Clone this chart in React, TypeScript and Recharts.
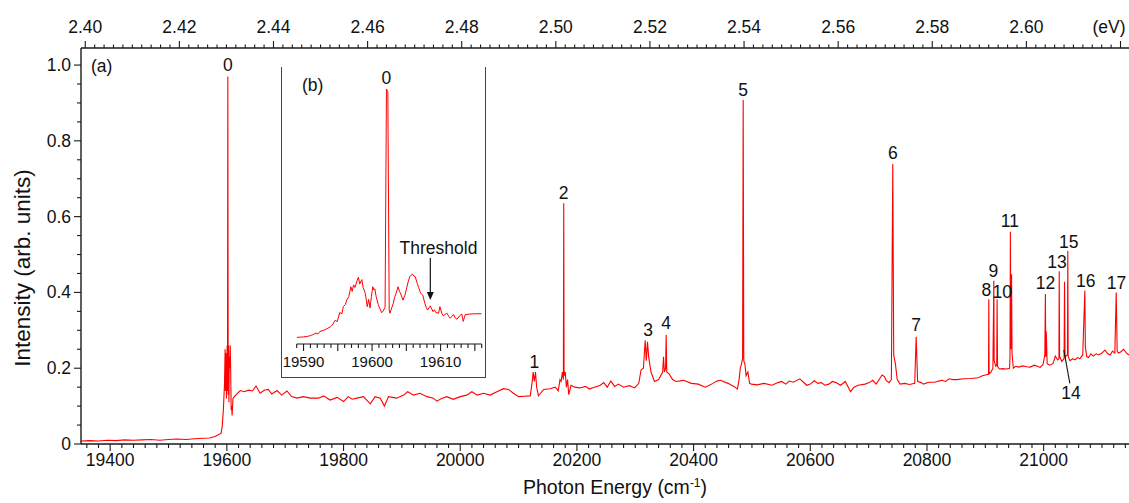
import React from "react";
import { LineChart, Line, XAxis, YAxis, ReferenceDot, ReferenceLine } from "recharts";

const FONT = "'Liberation Sans', Arial, Helvetica, sans-serif";
const AXIS = "#1a1a1a";
const RED = "#ff0000";
const EV_TO_CM = 8065.544;

// (a) full spectrum: photon energy (cm-1) and intensity (arb. units)
const energy = [
  19350, 19365, 19380, 19395, 19410, 19425, 19440, 19455, 19470, 19485, 19500, 19515, 19530, 19545, 19560, 19570, 19580, 19586, 19590,
  19592, 19594, 19596, 19597, 19597.6, 19598.2, 19598.8, 19599.4, 19600, 19600.6, 19601.1, 19601.7, 19602.3, 19602.9, 19603.5, 19604.2,
  19605, 19605.8, 19606.6, 19607.4, 19608.2, 19609, 19610.5, 19613, 19616, 19623, 19630, 19637, 19644, 19650, 19657, 19664, 19671, 19677,
  19686, 19694, 19703, 19711, 19720, 19731, 19743, 19757, 19766, 19777, 19789, 19800, 19808, 19815, 19823, 19834, 19846, 19854, 19863,
  19870, 19877, 19891, 19903, 19910, 19920, 19931, 19943, 19954, 19960, 19968, 19977, 19988, 20000, 20011, 20020, 20029, 20040, 20051,
  20063, 20074, 20083, 20091, 20100, 20110, 20120, 20123, 20125, 20127, 20129, 20131, 20134, 20143, 20154, 20163, 20168, 20171, 20173,
  20175, 20176.8, 20177.4, 20178, 20180, 20182, 20184, 20186, 20190, 20196, 20205, 20215, 20221, 20230, 20240, 20246, 20252, 20258, 20265,
  20271, 20280, 20290, 20299, 20306, 20310, 20314, 20317, 20319, 20321, 20323, 20327, 20333, 20340, 20347, 20348.4, 20350, 20352, 20353,
  20354, 20358, 20364, 20370, 20383, 20396, 20408, 20420, 20428, 20433, 20440, 20446, 20459, 20471, 20475, 20478, 20480, 20482, 20484,
  20485, 20486, 20488, 20490, 20493, 20496, 20499, 20509, 20521, 20534, 20545, 20551, 20558, 20564, 20571, 20582, 20594, 20600, 20607,
  20613, 20619, 20625, 20632, 20638, 20644, 20652, 20660, 20669, 20675, 20682, 20694, 20701, 20707, 20713, 20720, 20723, 20727, 20730,
  20735, 20739, 20741.4, 20743, 20746, 20749, 20754, 20762, 20770, 20779, 20781.5, 20784, 20790, 20794, 20803, 20813, 20820, 20826, 20832,
  20838, 20845, 20851, 20863, 20875, 20888, 20895, 20900, 20905.5, 20906, 20906.5, 20910, 20913, 20914.6, 20915.2, 20918, 20919.6, 20920.2,
  20921, 20924, 20930, 20935, 20940, 20941.6, 20942.3, 20943, 20943.7, 20944.5, 20945, 20945.8, 20948, 20952, 20957, 20964, 20971, 20977,
  20984, 20988, 20994, 20999, 21002, 21003, 21003.6, 21004.5, 21006, 21010, 21016, 21020, 21024, 21026.2, 21026.7, 21027.3, 21031, 21035,
  21035.8, 21036.6, 21038, 21040.8, 21041.4, 21042, 21045, 21050, 21054, 21058, 21062, 21067, 21070.6, 21071.5, 21074, 21077, 21081, 21085,
  21090, 21094, 21100, 21105, 21110, 21114, 21118, 21122, 21124.4, 21126, 21128, 21132, 21137, 21143, 21150, 21160,
];
const intensity = [
  0.008, 0.009, 0.008, 0.01, 0.009, 0.011, 0.01, 0.011, 0.012, 0.01, 0.012, 0.013, 0.012, 0.014, 0.015, 0.016, 0.02, 0.025, 0.028,
  0.045, 0.09, 0.16, 0.25, 0.14, 0.24, 0.19, 0.12, 0.22, 0.26, 0.14, 0.97, 0.13, 0.26, 0.11, 0.23,
  0.2, 0.26, 0.19, 0.09, 0.1, 0.075, 0.12, 0.125, 0.13, 0.141, 0.138, 0.142, 0.14, 0.153, 0.134, 0.142, 0.144, 0.132,
  0.141, 0.129, 0.14, 0.125, 0.121, 0.125, 0.121, 0.121, 0.127, 0.116, 0.123, 0.112, 0.125, 0.118, 0.121, 0.125, 0.106, 0.125, 0.121,
  0.1, 0.125, 0.121, 0.129, 0.138, 0.129, 0.134, 0.125, 0.121, 0.113, 0.12, 0.125, 0.118, 0.125, 0.129, 0.138, 0.129, 0.134, 0.129,
  0.138, 0.146, 0.144, 0.134, 0.125, 0.126, 0.127, 0.16, 0.19, 0.165, 0.19, 0.15, 0.127, 0.144, 0.146, 0.15, 0.14, 0.17, 0.165,
  0.19, 0.17, 0.635, 0.18, 0.19, 0.15, 0.17, 0.13, 0.155, 0.15, 0.148, 0.152, 0.145, 0.15, 0.155, 0.162, 0.15, 0.166, 0.152,
  0.158, 0.15, 0.154, 0.148, 0.16, 0.196, 0.2, 0.274, 0.22, 0.27, 0.23, 0.19, 0.165, 0.17, 0.19, 0.23, 0.19, 0.2, 0.288,
  0.19, 0.185, 0.17, 0.165, 0.168, 0.16, 0.158, 0.15, 0.156, 0.16, 0.166, 0.168, 0.16, 0.15, 0.145, 0.17, 0.2, 0.21, 0.226,
  0.908, 0.22, 0.21, 0.18, 0.19, 0.16, 0.158, 0.156, 0.16, 0.155, 0.162, 0.165, 0.158, 0.166, 0.163, 0.172, 0.155, 0.158, 0.167,
  0.16, 0.162, 0.155, 0.158, 0.165, 0.162, 0.155, 0.165, 0.138, 0.15, 0.155, 0.158, 0.162, 0.168, 0.158, 0.175, 0.182, 0.178, 0.168,
  0.162, 0.17, 0.739, 0.235, 0.21, 0.17, 0.158, 0.16, 0.157, 0.16, 0.283, 0.165, 0.162, 0.158, 0.163, 0.163, 0.166, 0.168, 0.165,
  0.172, 0.17, 0.17, 0.172, 0.173, 0.175, 0.18, 0.182, 0.184, 0.382, 0.185, 0.19, 0.2, 0.431, 0.22, 0.205, 0.208, 0.382,
  0.205, 0.198, 0.199, 0.198, 0.199, 0.2, 0.23, 0.56, 0.25, 0.26, 0.448, 0.24, 0.2, 0.205, 0.203, 0.206, 0.204, 0.203,
  0.208, 0.206, 0.202, 0.21, 0.235, 0.396, 0.23, 0.297, 0.212, 0.208, 0.212, 0.232, 0.222, 0.225, 0.456, 0.232, 0.218, 0.225,
  0.428, 0.228, 0.232, 0.235, 0.51, 0.232, 0.22, 0.225, 0.222, 0.228, 0.225, 0.235, 0.405, 0.255, 0.23, 0.228, 0.238, 0.232,
  0.238, 0.235, 0.24, 0.248, 0.238, 0.235, 0.245, 0.24, 0.4, 0.245, 0.24, 0.243, 0.25, 0.238, 0.232, 0.235,
];

// (b) inset around the origin band
const insetEnergy = [
  19589, 19590, 19590.6, 19591, 19591.5, 19591.8, 19592.1, 19592.4, 19592.9, 19593.4, 19593.9, 19594.2, 19594.6, 19594.9, 19595.3,
  19595.6, 19595.8, 19596.1, 19596.3, 19596.6, 19596.9, 19597.1, 19597.3, 19597.5, 19597.8, 19598, 19598.2, 19598.5, 19598.7, 19599,
  19599.2, 19599.3, 19599.5, 19599.7, 19599.9, 19600.1, 19600.3, 19600.4, 19600.6, 19600.7, 19600.9, 19601.1, 19601.4, 19601.6,
  19601.9, 19602.1, 19602.3, 19602.5, 19602.6, 19602.9, 19603.1, 19603.3, 19603.5, 19603.8, 19604, 19604.2, 19604.5, 19604.8, 19605.1,
  19605.3, 19605.5, 19605.7, 19605.9, 19606.1, 19606.3, 19606.6, 19606.8, 19607, 19607.2, 19607.4, 19607.7, 19607.9, 19608.1, 19608.3,
  19608.5, 19608.9, 19609.1, 19609.3, 19609.7, 19609.9, 19610.2, 19610.4, 19610.9, 19611.2, 19611.4, 19611.9, 19612.1, 19612.4,
  19612.8, 19613.1, 19613.3, 19613.6, 19614.3, 19615, 19616,
];
const insetIntensity = [
  0.025, 0.027, 0.029, 0.032, 0.037, 0.042, 0.038, 0.048, 0.052, 0.058, 0.065, 0.072, 0.09, 0.085, 0.12,
  0.115, 0.142, 0.15, 0.167, 0.18, 0.218, 0.2, 0.225, 0.215, 0.24, 0.254, 0.228, 0.245, 0.215, 0.193,
  0.16, 0.142, 0.17, 0.137, 0.18, 0.218, 0.205, 0.21, 0.18, 0.17, 0.15, 0.137, 0.119, 0.125,
  0.14, 0.97, 0.96, 0.13, 0.117, 0.14, 0.155, 0.178, 0.193, 0.218, 0.2, 0.19, 0.167, 0.186, 0.218,
  0.24, 0.256, 0.262, 0.266, 0.258, 0.256, 0.23, 0.215, 0.199, 0.19, 0.186, 0.155, 0.14, 0.129, 0.138,
  0.145, 0.123, 0.13, 0.12, 0.117, 0.142, 0.115, 0.107, 0.118, 0.105, 0.098, 0.112, 0.1, 0.094,
  0.108, 0.114, 0.086, 0.112, 0.114, 0.115, 0.115,
];

// band assignments: label text and where the label sits
const bandNames = ["0", "1", "2", "3", "4", "5", "6", "7", "8", "9", "10", "11", "12", "13", "14", "15", "16", "17"];
const bandX = [19601.7, 20127, 20177.4, 20322, 20353, 20485, 20741.4, 20781.5, 20902, 20914, 20929, 20942, 21003, 21023, 21047, 21043, 21072, 21125];
const bandY = [1.0, 0.217, 0.663, 0.301, 0.318, 0.934, 0.767, 0.314, 0.406, 0.457, 0.402, 0.588, 0.424, 0.481, 0.134, 0.534, 0.431, 0.424];

// axis tick labels
const cmMajor = [19400, 19600, 19800, 20000, 20200, 20400, 20600, 20800, 21000];
const evMajor = ["2.40", "2.42", "2.44", "2.46", "2.48", "2.50", "2.52", "2.54", "2.56", "2.58", "2.60", "(eV)"];
const yMajor = ["0", "0.2", "0.4", "0.6", "0.8", "1.0"];
const insetMajor = [19590, 19600, 19610];

const mainData = energy.map((x, i) => ({ x, y: intensity[i] }));
const insetData = insetEnergy.map((x, i) => ({ x, y: insetIntensity[i] }));

const cmTicks: number[] = [];
for (let v = 19360; v <= 21160; v += 20) cmTicks.push(v);
const evTicks: number[] = [];
for (let k = 2400; k <= 2622; k += 2) evTicks.push((k / 1000) * EV_TO_CM);
const yTicks: number[] = [];
for (let k = 0; k <= 20; k++) yTicks.push(k * 0.05);
const insetTicks: number[] = [];
for (let v = 19589; v <= 19616; v++) insetTicks.push(v);

const txt = { fontFamily: FONT, fill: "#111" };

// plot edges (px) - ticks are drawn from these so they sit on the axis lines
const PLOT_LEFT = 81;
const PLOT_TOP = 48;
const PLOT_BOTTOM = 444;
const INSET_AXIS = 277;

const BottomTick = (p: any) => {
  const v = Math.round(p.payload.value);
  const major = cmMajor.includes(v);
  const y = PLOT_BOTTOM;
  return (
    <g>
      <line x1={p.x} x2={p.x} y1={y} y2={y + (major ? 7 : 4)} stroke={AXIS} strokeWidth={1.1} />
      {major && <text x={p.x} y={y + 22} textAnchor="middle" fontSize={17.5} {...txt}>{v}</text>}
    </g>
  );
};

const TopTick = (p: any) => {
  const k = Math.round((p.payload.value / EV_TO_CM) * 1000);
  const major = k % 20 === 0;
  const label = evMajor[(k - 2400) / 20];
  const unit = label === "(eV)";
  const y = PLOT_TOP;
  return (
    <g>
      <line x1={p.x} x2={p.x} y1={y} y2={y - (major ? 7 : 3.5)} stroke={AXIS} strokeWidth={1.1} />
      {major && label && (
        <text x={unit ? p.x + 5 : p.x} y={y - 15} textAnchor={unit ? "end" : "middle"} fontSize={17.5} {...txt}>{label}</text>
      )}
    </g>
  );
};

const LeftTick = (p: any) => {
  const k = Math.round(p.payload.value * 100);
  const major = k % 20 === 0;
  const x = PLOT_LEFT;
  return (
    <g>
      <line x1={x} x2={x - (major ? 7 : 4)} y1={p.y} y2={p.y} stroke={AXIS} strokeWidth={1.1} />
      {major && <text x={x - 10} y={p.y + 6} textAnchor="end" fontSize={17.5} {...txt}>{yMajor[k / 20]}</text>}
    </g>
  );
};

const InsetTick = (p: any) => {
  const v = Math.round(p.payload.value);
  const major = v % 5 === 0;
  const y = INSET_AXIS;
  return (
    <g>
      <line x1={p.x} x2={p.x} y1={y} y2={y + (major ? 7 : 4)} stroke={AXIS} strokeWidth={1.1} />
      {insetMajor.includes(v) && <text x={p.x} y={y + 23} textAnchor="middle" fontSize={15} {...txt}>{v}</text>}
    </g>
  );
};

const labelShape = (text: string, size = 17.5) => (p: any) => (
  <text x={p.cx} y={p.cy} textAnchor="middle" dominantBaseline="central" fontSize={size} {...txt}>{text}</text>
);

const arrowHead = (p: any) => (
  <path d={`M${p.cx - 3.5},${p.cy - 8} L${p.cx + 3.5},${p.cy - 8} L${p.cx},${p.cy} Z`} fill="#111" />
);

export default function App() {
  return (
    <div style={{ position: "absolute", left: 0, top: 0, width: 1129, height: 503, overflow: "hidden", background: "#fff" }}>
      <LineChart width={1150} height={503} margin={{ top: 28, right: 13, bottom: 39, left: 61 }}>
        <XAxis xAxisId="cm" type="number" dataKey="x" domain={[19350, 21160]} allowDataOverflow ticks={cmTicks} interval={0}
          tickSize={0} tickMargin={0} height={20} tickLine={false} axisLine={{ stroke: AXIS, strokeWidth: 1.4 }} tick={BottomTick} />
        <XAxis xAxisId="ev" orientation="top" type="number" dataKey="x" domain={[19350, 21160]} allowDataOverflow ticks={evTicks} interval={0}
          tickSize={0} tickMargin={0} height={20} tickLine={false} axisLine={{ stroke: AXIS, strokeWidth: 1.4 }} tick={TopTick} />
        <YAxis yAxisId="i" type="number" domain={[0, 1.045]} allowDataOverflow ticks={yTicks} interval={0}
          tickSize={0} tickMargin={0} width={20} tickLine={false} axisLine={{ stroke: AXIS, strokeWidth: 1.4 }} tick={LeftTick} />
        <Line xAxisId="cm" yAxisId="i" data={mainData} dataKey="y" type="linear" stroke={RED} strokeWidth={1.1} dot={false} isAnimationActive={false} />
        <ReferenceLine xAxisId="cm" yAxisId="i" segment={[{ x: 21034.6, y: 0.248 }, { x: 21044.9, y: 0.16 }]} stroke="#111" strokeWidth={1.1} ifOverflow="visible" />
        {bandNames.map((name, i) => (
          <ReferenceDot key={name} xAxisId="cm" yAxisId="i" x={bandX[i]} y={bandY[i]} r={1} ifOverflow="visible" shape={labelShape(name)} />
        ))}
      </LineChart>

      <div style={{ position: "absolute", left: 281, top: 67, width: 205, height: 311, background: "#fff" }}>
        <LineChart width={205} height={311} margin={{ top: 0, right: 4.3, bottom: 14, left: 15.7 }}>
          <XAxis xAxisId="b" type="number" dataKey="x" domain={[19589, 19616]} allowDataOverflow ticks={insetTicks} interval={0}
            tickSize={0} tickMargin={0} height={20} tickLine={false} axisLine={{ stroke: AXIS, strokeWidth: 1.2 }} tick={InsetTick} />
          <YAxis yAxisId="b" type="number" domain={[0, 1.054]} allowDataOverflow hide />
          <Line xAxisId="b" yAxisId="b" data={insetData} dataKey="y" type="linear" stroke={RED} strokeWidth={1} dot={false} isAnimationActive={false} />
          <ReferenceLine xAxisId="b" yAxisId="b" segment={[{ x: 19608.5, y: 0.327 }, { x: 19608.5, y: 0.19 }]} stroke="#111" strokeWidth={1.2} ifOverflow="visible" />
          <ReferenceDot xAxisId="b" yAxisId="b" x={19608.5} y={0.167} r={1} ifOverflow="visible" shape={arrowHead} />
          <ReferenceDot xAxisId="b" yAxisId="b" x={19609.7} y={0.364} r={1} ifOverflow="visible" shape={labelShape("Threshold")} />
          <ReferenceDot xAxisId="b" yAxisId="b" x={19602.1} y={1.011} r={1} ifOverflow="visible" shape={labelShape("0")} />
        </LineChart>
        <div style={{ position: "absolute", left: 0, top: 0, right: 0, bottom: 0, borderLeft: "1.3px solid #444", borderRight: "1.3px solid #444", borderBottom: "1.3px solid #444", pointerEvents: "none" }} />
        <div style={{ position: "absolute", left: 21, top: 19, transform: "translateY(-50%)", fontFamily: FONT, fontSize: 17.5, color: "#111", lineHeight: 1 }}>(b)</div>
      </div>

      <div style={{ position: "absolute", left: 91, top: 67, transform: "translateY(-50%)", fontFamily: FONT, fontSize: 17.5, color: "#111", lineHeight: 1 }}>(a)</div>

      <div style={{ position: "absolute", left: 615, top: 488, transform: "translate(-50%, -50%)", whiteSpace: "nowrap", fontFamily: FONT, fontSize: 19.5, color: "#111", lineHeight: 1 }}>
        Photon Energy (cm<sup style={{ fontSize: 12, verticalAlign: 7, lineHeight: 0 }}>-1</sup>)
      </div>
      <div style={{ position: "absolute", left: 23, top: 268, transform: "translate(-50%, -50%) rotate(-90deg)", whiteSpace: "nowrap", fontFamily: FONT, fontSize: 22.5, color: "#111", lineHeight: 1 }}>
        Intensity (arb. units)
      </div>
    </div>
  );
}
